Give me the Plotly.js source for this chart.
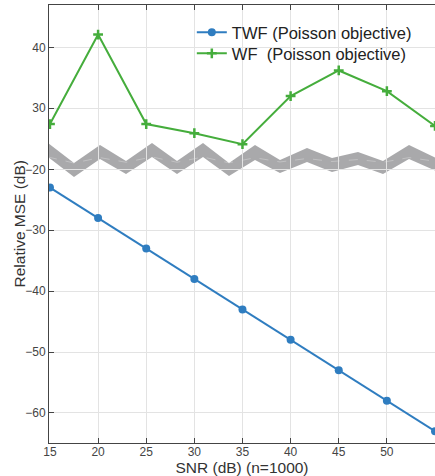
<!DOCTYPE html>
<html><head><meta charset="utf-8">
<script src="https://cdn.plot.ly/plotly-3.0.1.min.js"></script>
<style>html,body{margin:0;padding:0;overflow:hidden;background:#fff}</style>
</head><body><div id="chart" style="width:435px;height:476px"></div>
<script>
// ---- data ----
const snr = [15, 20, 25, 30, 35, 40, 45, 50, 55];
const twfMSE = [-23, -28, -33, -38, -43, -48, -53, -58, -63];
const wfMSE = [27.4, 42.1, 27.4, 25.9, 24.1, 32.0, 36.2, 32.8, 27.1];
const xTicks = [15, 20, 25, 30, 35, 40, 45, 50];
const yLowTicks = [-20, -30, -40, -50, -60];
const yHighTicks = [30, 40];
const seriesNames = ['TWF (Poisson objective)', 'WF\u00a0 (Poisson objective)'];
const xTitle = 'SNR (dB) (n=1000)';
const yTitle = 'Relative MSE (dB)';

// ---- geometry (pixels) ----
const W = 435, H = 476, mL = 49, mR = 0, mT = 5, mB = 33;
const plotW = W - mL - mR, plotH = H - mT - mB;
const splitPx = 150; // axis break position
const split = (H - mB - splitPx) / plotH;

// break decoration (zig-zag band), pixel vertices
const bx = [48, 74, 100, 126, 152, 177, 203, 229, 255, 280, 307, 332, 358, 383, 409, 436];
const bTop = [143, 163, 145, 161, 143, 161, 143, 163, 145, 160, 148, 158, 152, 161, 145, 158];
const bBot = [157, 177, 159, 174, 157, 174, 157, 176, 160, 173, 162, 172, 165, 174, 159, 171];
const px = x => (x - mL) / plotW;
const py = y => (H - mB - y) / plotH;
let band = 'M ' + bx.map((x, i) => px(x) + ',' + py(bTop[i])).join(' L ');
for (let i = bx.length - 1; i >= 0; i--) band += ' L ' + px(bx[i]) + ',' + py(bBot[i]);
band += ' Z';
let mid = 'M ' + bx.map((x, i) => px(x) + ',' + py(160 + ((bTop[i] + bBot[i]) / 2 - 160) * 0.3)).join(' L ');

const font = 'Liberation Sans, Arial, Helvetica, sans-serif';
const blue = '#2f7dc0', green = '#45ad3c';
const grid = '#e3e3e3', axc = '#444';

const traces = [
  {x: snr, y: twfMSE, name: seriesNames[0], type: 'scatter', mode: 'lines+markers',
   line: {color: blue, width: 2}, marker: {color: blue, size: 8, symbol: 'circle'},
   xaxis: 'x', yaxis: 'y', legend: 'legend'},
  {x: snr, y: wfMSE, name: seriesNames[1], type: 'scatter', mode: 'lines+markers',
   line: {color: green, width: 2}, marker: {color: green, size: 7, symbol: 'cross-thin-open', line: {color: green, width: 2.5}},
   xaxis: 'x2', yaxis: 'y2', legend: 'legend2'}
];

const legFont = {size: 16.5, color: '#222', family: font};
const xRange = [14.9, 55.0];
const layout = {
  width: W, height: H,
  margin: {l: mL, r: mR, t: mT, b: mB},
  paper_bgcolor: '#fff', plot_bgcolor: 'rgba(0,0,0,0)',
  font: {family: font, color: '#444', size: 12},
  showlegend: true,
  legend: {x: 0.37, y: 0.977, xanchor: 'left', yanchor: 'top', bgcolor: 'rgba(0,0,0,0)', font: legFont},
  legend2: {x: 0.37, y: 0.929, xanchor: 'left', yanchor: 'top', bgcolor: 'rgba(0,0,0,0)', font: legFont},
  xaxis: {domain: [0, 1], range: xRange, anchor: 'y', side: 'bottom',
          tickvals: xTicks, ticks: 'inside', ticklen: 5, tickcolor: axc, ticklabelstandoff: -2,
          showline: true, linecolor: axc, linewidth: 1, showgrid: true, gridcolor: grid,
          zeroline: false, tickfont: {size: 12, color: '#444'},
          title: {text: xTitle, font: {size: 15.5, color: '#333'}, standoff: 2}},
  xaxis2: {domain: [0, 1], matches: 'x', anchor: 'y2', side: 'top',
           tickvals: xTicks, ticks: 'inside', ticklen: 5, tickcolor: axc, showticklabels: false,
           showline: true, linecolor: axc, linewidth: 1, showgrid: true, gridcolor: grid, zeroline: false},
  yaxis: {domain: [0, split], range: [-64.94, -16.83], anchor: 'x',
          tickvals: yLowTicks, ticks: 'inside', ticklen: 5, tickcolor: axc,
          showline: true, linecolor: axc, linewidth: 1, showgrid: true, gridcolor: grid, zeroline: false,
          tickfont: {size: 12, color: '#444'}},
  yaxis2: {domain: [split, 1], range: [23.14, 46.95], anchor: 'x2',
           tickvals: yHighTicks, ticks: 'inside', ticklen: 5, tickcolor: axc,
           showline: true, linecolor: axc, linewidth: 1, showgrid: true, gridcolor: grid, zeroline: false,
           tickfont: {size: 12, color: '#444'}},
  annotations: [
    {text: yTitle, xref: 'paper', yref: 'paper', x: (18.5 - mL) / plotW, y: 0.5, xanchor: 'center', yanchor: 'middle',
     textangle: -90, showarrow: false, font: {size: 15.5, color: '#333', family: font}}
  ],
  shapes: [
    {type: 'path', xref: 'paper', yref: 'paper', path: band, fillcolor: '#a4a4a7', opacity: 0.95, line: {width: 0}, layer: 'between'},
    {type: 'path', xref: 'paper', yref: 'paper', path: mid, line: {color: 'rgba(255,255,255,0.35)', width: 0.8, dash: 'dash'}, layer: 'between'}
  ]
};
Plotly.newPlot('chart', traces, layout, {displayModeBar: false, staticPlot: true});
</script></body></html>
